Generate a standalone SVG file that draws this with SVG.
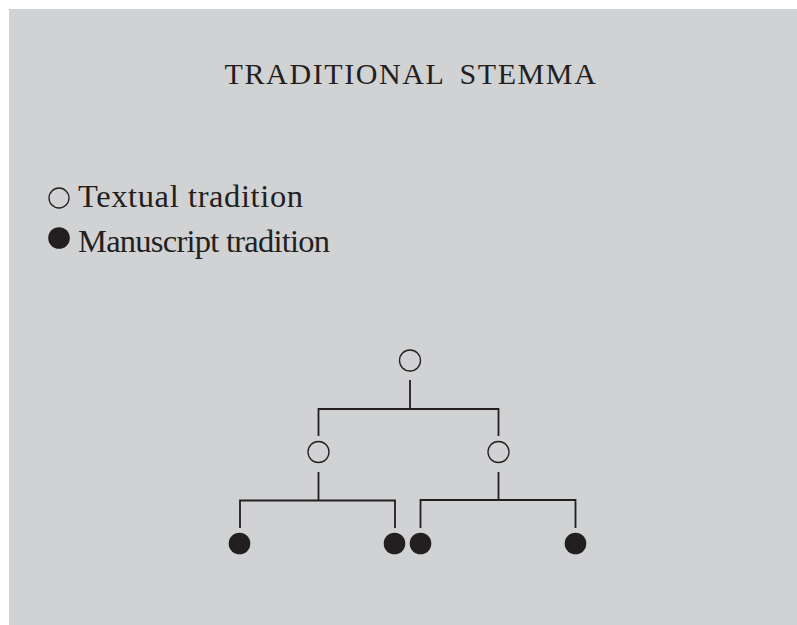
<svg xmlns="http://www.w3.org/2000/svg" width="797" height="625" viewBox="0 0 797 625">
  <style>
    .bg { fill: #d1d2d4; }
    .txt { font-family: "Liberation Serif", "DejaVu Serif", serif; fill: #231f20; }
    .legend-txt { font-size: 32.5px; }
    .open { fill: none; stroke: #231f20; stroke-width: 1.3; }
    .filled { fill: #231f20; }
    .edge { fill: none; stroke: #231f20; stroke-width: 1.8; }
  </style>
  <rect class="bg" x="9" y="9" width="788" height="616"/>

  <text class="txt" x="411" y="84" font-size="30" text-anchor="middle" letter-spacing="1.6" word-spacing="6">TRADITIONAL STEMMA</text>

  <!-- legend -->
  <g id="legend">
    <circle class="open" cx="59" cy="198" r="10"/>
    <text class="txt legend-txt" x="78" y="207" textLength="225" lengthAdjust="spacing">Textual tradition</text>
    <circle class="filled" cx="59" cy="238" r="10.8"/>
    <text class="txt legend-txt" x="78" y="252" textLength="252" lengthAdjust="spacing">Manuscript tradition</text>
  </g>

  <!-- connectors -->
  <g id="connectors">
    <path class="edge" d="M410 380 V409 M318.5 436 V409 H498.5 V436"/>
    <path class="edge" d="M318.5 472 V500.5 M240 528 V500.5 H395 V528"/>
    <path class="edge" d="M498.5 472 V500 M420.5 528 V500 H575.5 V528"/>
  </g>

  <!-- textual witnesses -->
  <g id="node-root"><circle class="open" cx="410" cy="360.5" r="10.5"/></g>
  <g id="node-left"><circle class="open" cx="318.5" cy="452" r="10.5"/></g>
  <g id="node-right"><circle class="open" cx="498.5" cy="452" r="10.5"/></g>

  <!-- manuscripts -->
  <g id="ms-1"><circle class="filled" cx="239.5" cy="543.5" r="10.8"/></g>
  <g id="ms-2"><circle class="filled" cx="394.5" cy="543.5" r="10.8"/></g>
  <g id="ms-3"><circle class="filled" cx="420.5" cy="543.5" r="10.8"/></g>
  <g id="ms-4"><circle class="filled" cx="575.5" cy="543.5" r="10.8"/></g>
</svg>
